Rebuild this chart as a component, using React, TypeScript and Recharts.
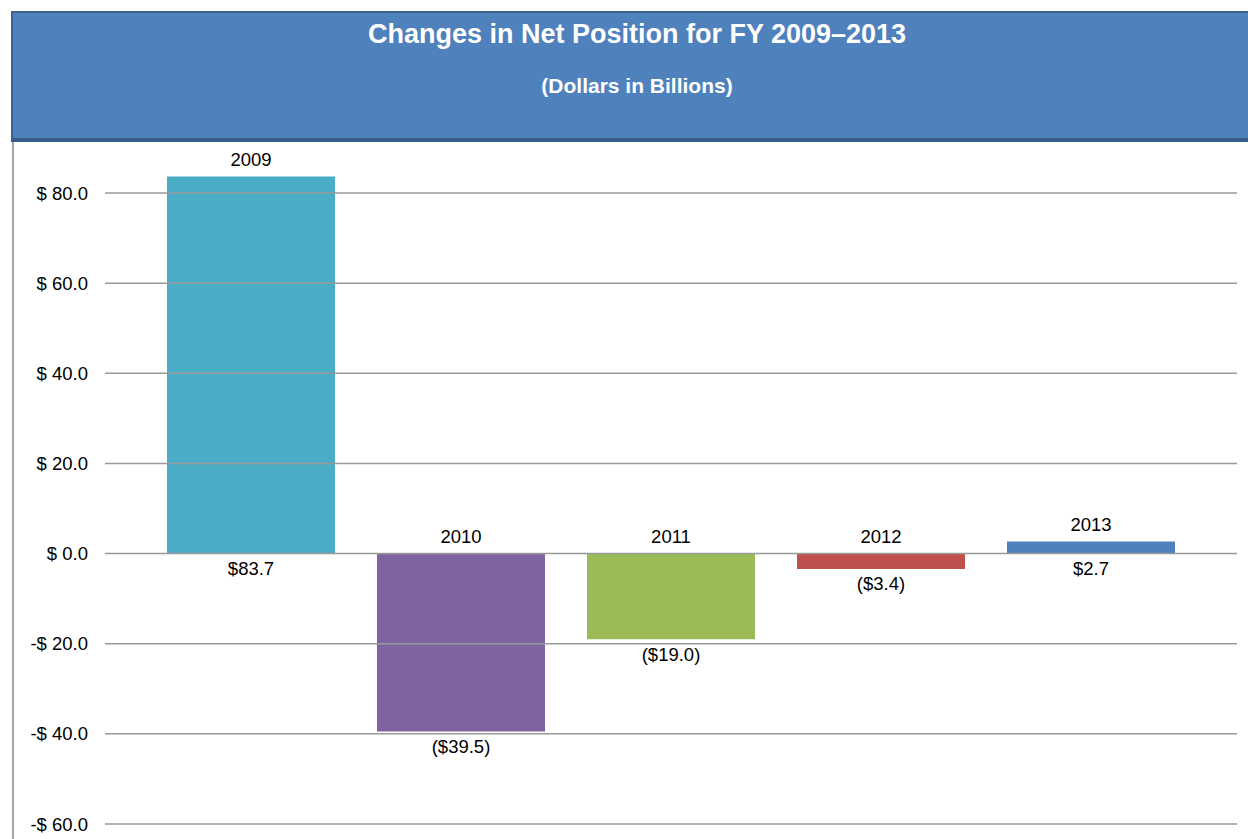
import React from 'react';
import { BarChart, Bar, XAxis, YAxis, ReferenceLine, Cell, LabelList } from 'recharts';

const years = ['2009', '2010', '2011', '2012', '2013'];
const netChange = [83.7, -39.5, -19.0, -3.4, 2.7];
const barColors = ['#4BACC6', '#8064A2', '#9BBB59', '#C0504D', '#4F81BD'];
const yTicks = [-60, -40, -20, 0, 20, 40, 60, 80];

const data = years.map((year, i) => ({ year, value: netChange[i] }));

const FONT = '"Liberation Sans", Arial, sans-serif';

const fmtTick = (v: number) => (v < 0 ? `-$ ${Math.abs(v).toFixed(1)}` : `$ ${v.toFixed(1)}`);
const fmtValue = (v: number) => (v < 0 ? `($${Math.abs(v).toFixed(1)})` : `$${v.toFixed(1)}`);

const YearLabel = (props: any) => {
  const { x, y, width, height, value } = props;
  const top = Math.min(y, y + height);
  return (
    <text x={x + width / 2} y={top - 17} textAnchor="middle" dominantBaseline="central"
      fontFamily={FONT} fontSize={18.5} fill="#000">
      {value}
    </text>
  );
};

const ValueLabel = (props: any) => {
  const { x, y, width, height, value } = props;
  const bottom = Math.max(y, y + height);
  return (
    <text x={x + width / 2} y={bottom + 15} textAnchor="middle" dominantBaseline="central"
      fontFamily={FONT} fontSize={18.5} fill="#000">
      {fmtValue(value)}
    </text>
  );
};

export default function App() {
  return (
    <div style={{ position: 'absolute', left: 0, top: 0, width: 1248, height: 839, overflow: 'hidden', background: '#fff' }}>
      <BarChart
        width={1248}
        height={839}
        data={data}
        margin={{ top: 148, right: 11, bottom: 15, left: 10 }}
      >
        {yTicks.map((t) => (
          <ReferenceLine key={t} y={t} stroke="#999" strokeWidth={1.5} />
        ))}
        <XAxis dataKey="year" hide padding={{ left: 41, right: 41 }} />
        <YAxis
          domain={[-60, 90]}
          ticks={yTicks}
          width={95}
          axisLine={false}
          tickLine={false}
          tickSize={0}
          tickMargin={17}
          tickFormatter={fmtTick}
          tick={{ fill: '#000', fontSize: 18.5, fontFamily: FONT }}
        />
        <Bar dataKey="value" barSize={168} isAnimationActive={false}>
          {data.map((d, i) => (
            <Cell key={d.year} fill={barColors[i]} />
          ))}
          <LabelList dataKey="year" content={<YearLabel />} />
          <LabelList dataKey="value" content={<ValueLabel />} />
        </Bar>
      </BarChart>
      <div style={{ position: 'absolute', left: 12, top: 142, width: 2, height: 700, background: '#A6A6A6' }} />
      <div
        style={{
          position: 'absolute',
          left: 11,
          top: 11,
          width: 1260,
          height: 131,
          boxSizing: 'border-box',
          background: '#4F81BD',
          borderTop: '2px solid #3B6494',
          borderLeft: '2px solid #3B6494',
          borderBottom: '4px solid #385D8A',
          fontFamily: FONT,
          fontWeight: 'bold',
          color: '#fff',
          textAlign: 'center',
        }}
      >
        <div style={{ position: 'absolute', left: 0, width: 1248, top: 5, fontSize: 27, lineHeight: '32px' }}>
          Changes in Net Position for FY 2009–2013
        </div>
        <div style={{ position: 'absolute', left: 0, width: 1248, top: 60, fontSize: 21, lineHeight: '26px' }}>
          (Dollars in Billions)
        </div>
      </div>
    </div>
  );
}
